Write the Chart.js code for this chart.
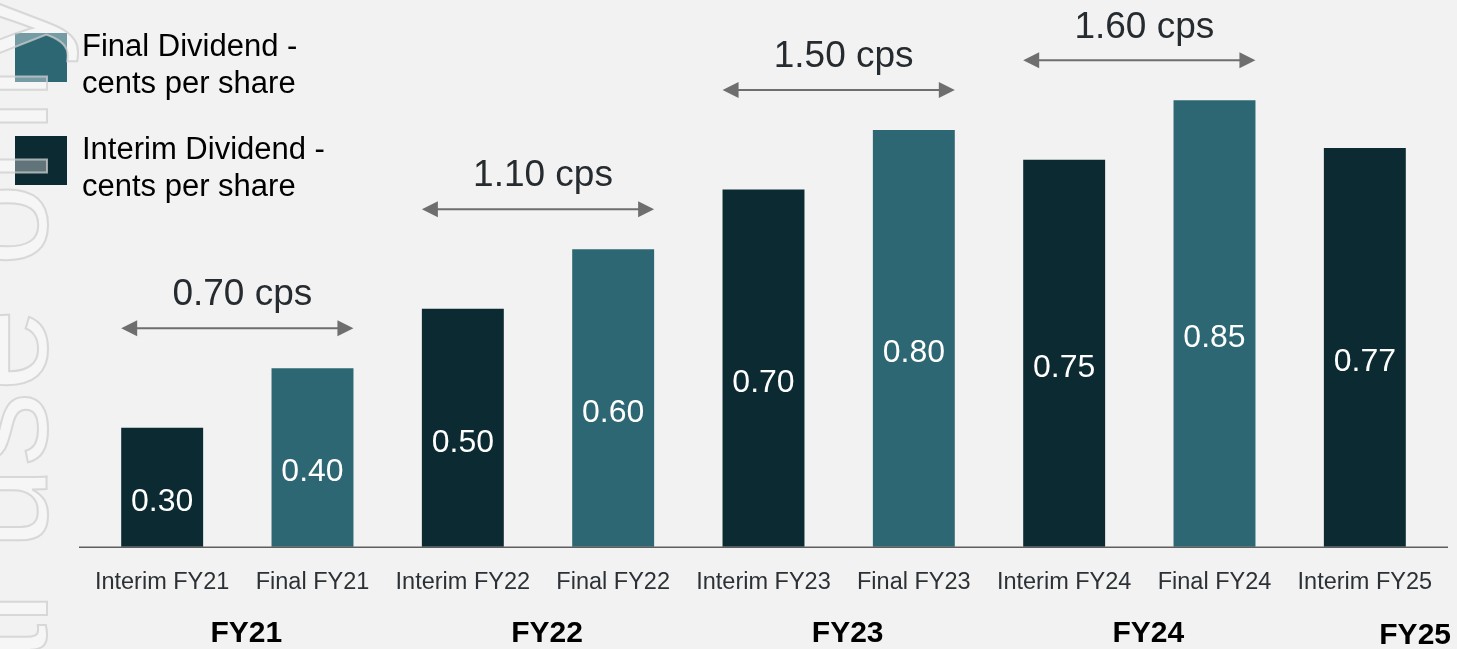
<!DOCTYPE html>
<html><head><meta charset="utf-8">
<script src="https://cdn.jsdelivr.net/npm/chart.js@4/dist/chart.umd.min.js"></script>
<style>html,body{margin:0;padding:0;background:#f2f2f2;overflow:hidden;} #wrap{width:1457px;height:649px;position:relative;}</style>
</head><body><div id="wrap"><canvas id="c" width="1457" height="649"></canvas></div>
<script>
const categories = ['Interim FY21','Final FY21','Interim FY22','Final FY22','Interim FY23','Final FY23','Interim FY24','Final FY24','Interim FY25'];
const interimValues = [0.30, null, 0.50, null, 0.70, null, 0.75, null, 0.77];
const finalValues = [null, 0.40, null, 0.60, null, 0.80, null, 0.85, null];
const yearLabels = ['FY21','FY22','FY23','FY24','FY25'];
const yearTotals = ['0.70 cps','1.10 cps','1.50 cps','1.60 cps'];
const legendFinal = ['Final Dividend -','cents per share'];
const legendInterim = ['Interim Dividend -','cents per share'];
const watermarkBefore = 'For personal ';
const watermarkAfter = 'use only';

const FONT = "'Liberation Sans', Arial, Helvetica, sans-serif";
const DARK = '#0b2a32';
const TEAL = '#2c6773';

const overlay = {
  id: 'overlay',
  afterDatasetsDraw(chart) {
    const ctx = chart.ctx;
    const ca = chart.chartArea;
    const m0 = chart.getDatasetMeta(0), m1 = chart.getDatasetMeta(1);
    ctx.save();
    // baseline
    ctx.strokeStyle = '#5e5e5e';
    ctx.lineWidth = 1.5;
    ctx.beginPath();
    ctx.moveTo(79, ca.bottom + 0.5);
    ctx.lineTo(1448, ca.bottom + 0.5);
    ctx.stroke();
    // value labels
    ctx.fillStyle = '#ffffff';
    ctx.font = '32px ' + FONT;
    ctx.textAlign = 'center';
    ctx.textBaseline = 'middle';
    [m0, m1].forEach((meta, di) => {
      const vals = di === 0 ? interimValues : finalValues;
      meta.data.forEach((el, i) => {
        if (vals[i] == null) return;
        const cy = (el.y + ca.bottom) / 2 + 15;
        ctx.fillText(vals[i].toFixed(2), el.x, cy);
      });
    });
    // arrows & totals
    for (let g = 0; g < yearTotals.length; g++) {
      const a = m0.data[2 * g], b = m1.data[2 * g + 1];
      const left = a.x - a.width / 2, right = b.x + b.width / 2;
      const y = Math.min(a.y, b.y) - 40;
      ctx.strokeStyle = '#6e6e6e';
      ctx.fillStyle = '#6e6e6e';
      ctx.lineWidth = 2;
      ctx.beginPath();
      ctx.moveTo(left + 12, y);
      ctx.lineTo(right - 12, y);
      ctx.stroke();
      ctx.beginPath();
      ctx.moveTo(left, y); ctx.lineTo(left + 16, y - 8); ctx.lineTo(left + 16, y + 8); ctx.closePath(); ctx.fill();
      ctx.beginPath();
      ctx.moveTo(right, y); ctx.lineTo(right - 16, y - 8); ctx.lineTo(right - 16, y + 8); ctx.closePath(); ctx.fill();
      ctx.fillStyle = '#262b2f';
      ctx.font = '37px ' + FONT;
      ctx.fillText(yearTotals[g], (left + right) / 2 + 5, y - 33);
    }
    // year labels
    ctx.fillStyle = '#000000';
    ctx.font = 'bold 30px ' + FONT;
    ctx.textBaseline = 'alphabetic';
    for (let g = 0; g < yearLabels.length; g++) {
      const a = m0.data[2 * g];
      const b = (2 * g + 1 < categories.length) ? m1.data[2 * g + 1] : null;
      if (b) {
        ctx.textAlign = 'center';
        ctx.fillText(yearLabels[g], (a.x + b.x) / 2 + 9, ca.bottom + 95);
      } else {
        ctx.textAlign = 'right';
        ctx.fillText(yearLabels[g], chart.width - 6, ca.bottom + 97);
      }
    }
    // legend
    const items = [[TEAL, legendFinal, 33], [DARK, legendInterim, 136]];
    items.forEach(([col, lines, top]) => {
      ctx.fillStyle = col;
      ctx.fillRect(15, top, 52, 49);
      ctx.fillStyle = '#000000';
      ctx.font = '31px ' + FONT;
      ctx.textAlign = 'left';
      ctx.textBaseline = 'alphabetic';
      lines.forEach((t, k) => ctx.fillText(t, 82, top + 23 + k * 37));
    });
    // watermark
    ctx.translate(47, 550);
    ctx.rotate(-Math.PI / 2);
    ctx.font = '150px ' + FONT;
    ctx.textBaseline = 'alphabetic';
    ctx.lineWidth = 2;
    ctx.strokeStyle = 'rgba(205,205,205,0.75)';
    ctx.fillStyle = 'rgba(255,255,255,0.35)';
    ctx.textAlign = 'left';
    ctx.fillText(watermarkAfter, 0, 0);
    ctx.strokeText(watermarkAfter, 0, 0);
    ctx.textAlign = 'right';
    ctx.fillText(watermarkBefore, 0, 0);
    ctx.strokeText(watermarkBefore, 0, 0);
    ctx.restore();
  }
};

new Chart(document.getElementById('c'), {
  type: 'bar',
  data: {
    labels: categories,
    datasets: [
      { label: legendInterim.join(' '), data: interimValues, backgroundColor: DARK, grouped: false, barPercentage: 0.545, categoryPercentage: 1 },
      { label: legendFinal.join(' '), data: finalValues, backgroundColor: TEAL, grouped: false, barPercentage: 0.545, categoryPercentage: 1 }
    ]
  },
  options: {
    responsive: false,
    animation: false,
    devicePixelRatio: 1,
    layout: { padding: { left: 87, right: 17, top: 11, bottom: 30 } },
    plugins: { legend: { display: false }, tooltip: { enabled: false } },
    scales: {
      x: {
        grid: { display: false, drawTicks: false },
        border: { display: false },
        ticks: { color: '#2c3135', font: { family: FONT, size: 23.5 }, padding: 22, maxRotation: 0, minRotation: 0, autoSkip: false }
      },
      y: { display: false, min: 0.1, max: 1.0 }
    }
  },
  plugins: [overlay]
});
</script>
</body></html>
